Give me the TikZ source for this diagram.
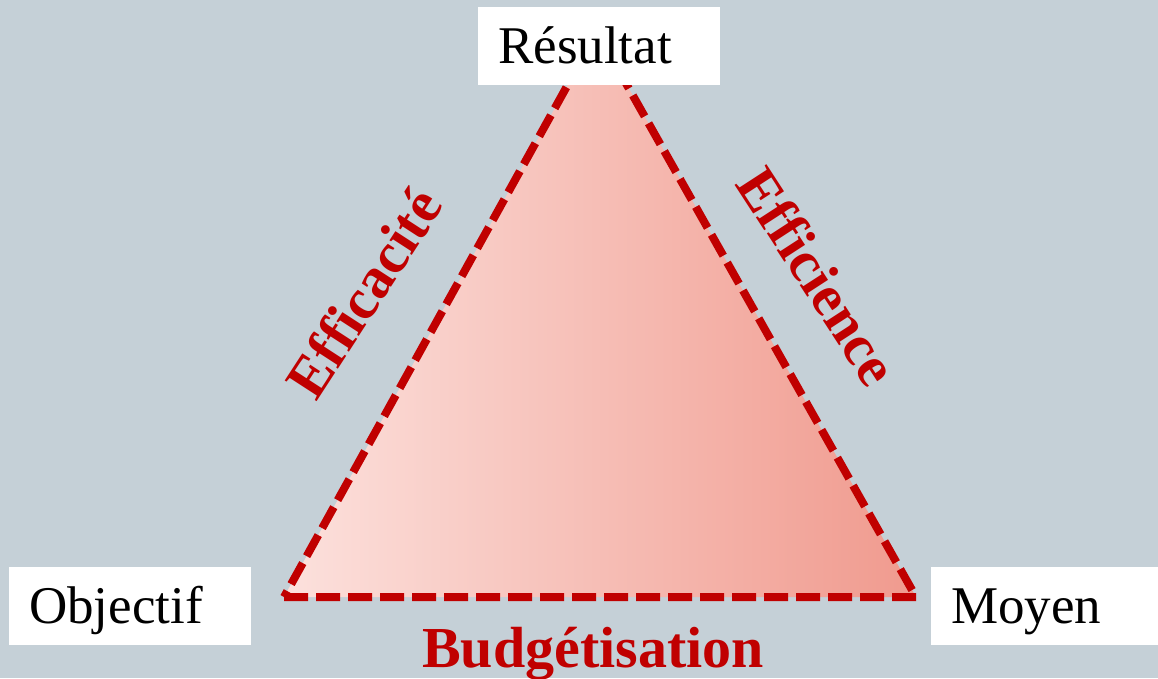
\documentclass[tikz,border=0pt]{standalone}
\usepackage{fontspec}
\setmainfont{Liberation Serif}
\definecolor{bgc}{HTML}{C5D0D7}
\definecolor{redc}{HTML}{C00000}
\definecolor{pinkl}{HTML}{FCE1DD}
\definecolor{pinkr}{HTML}{F09A8E}
\begin{document}
\begin{tikzpicture}[x=1pt,y=-1pt,
  labelbox/.style={fill=white, inner sep=0pt, inner xsep=20pt, text width=202pt,
    align=left, minimum height=78pt, text height=40pt, text depth=6pt,
    font=\fontsize{53}{60}\selectfont, anchor=north west},
  redlabel/.style={text=redc, font=\bfseries\fontsize{58}{66}\selectfont, inner sep=0pt},
  tri/.style={draw=redc, line width=8pt, dash pattern=on 24pt off 8pt, line join=round}]
\fill[bgc] (0,0) rectangle (1158,678);
\useasboundingbox (0,0) rectangle (1158,678);
\coordinate (T) at (597,32);
\coordinate (L) at (284,597);
\coordinate (R) at (916,597);
\shade[left color=pinkl, right color=pinkr] (L) -- (R) -- (T) -- cycle;
\draw[tri] (L) -- (R) -- (T) -- cycle;
\node[labelbox] (res) at (478,7) {Résultat};
\node[labelbox] (obj) at (9,567) {Objectif};
\node[labelbox, text width=187pt] (moy) at (931,567) {Moyen};
\node[redlabel, rotate=57] (effa) at (364,293) {Efficacité};
\node[redlabel, rotate=-57] (effi) at (818,276) {Efficience};
\node[redlabel, anchor=base] (bud) at (593,667) {Budgétisation};
\end{tikzpicture}
\end{document}
